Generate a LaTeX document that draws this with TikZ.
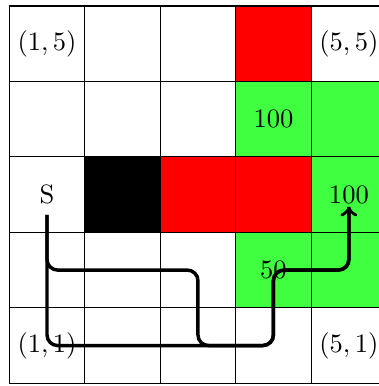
\documentclass[tikz,border=0pt]{standalone}
\begin{document}
\begin{tikzpicture}[x=1cm,y=1cm,
  lbl/.style={inner sep=1pt},
  pathline/.style={line width=1.3pt, rounded corners=4pt},
  gcolor/.style={fill=green!75},
  rcolor/.style={fill=red}]
\useasboundingbox (-0.123,-0.036) rectangle (4.890,5.079);
% coloured cells
\fill[rcolor] (3,4) rectangle (4,5);
\fill[gcolor] (3,3) rectangle (5,4);
\fill[black]  (1,2) rectangle (2,3);
\fill[rcolor] (2,2) rectangle (4,3);
\fill[gcolor] (4,2) rectangle (5,3);
\fill[gcolor] (3,1) rectangle (5,2);
% grid
\draw[line width=0.45pt] (0,0) grid (5,5);
% labels
\node[lbl] (l15) at (0.5,4.5) {$(1,5)$};
\node[lbl] (l55) at (4.5,4.5) {$(5,5)$};
\node[lbl] (l11) at (0.5,0.5) {$(1,1)$};
\node[lbl] (l51) at (4.5,0.5) {$(5,1)$};
\node[lbl] (r1) at (3.5,3.5) {100};
\node[lbl] (S) at (0.5,2.5) {S};
\node[lbl] (r2) at (4.5,2.5) {100};
\node[lbl] (r3) at (3.5,1.5) {50};
% paths
\draw[pathline] (S.south) ++(0,-0.1) coordinate (s0) |- (2.5,1.5) |- (3.5,0.5) |- (4.5,1.5) -- (r2.south);
\draw[pathline,->] (s0) |- (3.5,0.5) |- (4.5,1.5) -- (r2.south);
\end{tikzpicture}
\end{document}
